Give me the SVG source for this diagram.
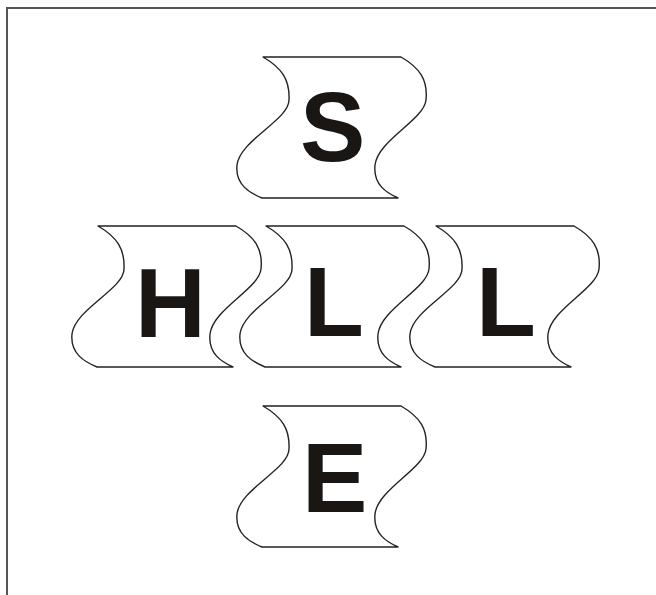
<svg xmlns="http://www.w3.org/2000/svg" width="656" height="595" viewBox="0 0 656 595">
<style>
.tile{fill:#fff;stroke:#222;stroke-width:1.4;stroke-linejoin:round}
.lt{font-family:"Liberation Sans",Arial,sans-serif;font-weight:bold;font-size:98px;fill:#1a1614}
.frame{stroke:#555;stroke-width:2;fill:none}
</style>
<defs>
<path id="flag" d="M0,0 L138,0 C157,11 165,23 163,43 C161,63 115,83 112,108 C110,128 124,136 135,141 L-1,141 C-13,136 -28,128 -26,108 C-23,83 26,63 26,43 C27,23 19,11 0,0 Z"/>
</defs>
<rect width="656" height="595" fill="#fff"/>
<g id="frame"><path class="frame" d="M7,595 L7,8 L656,8"/></g>
<g id="connectors"></g>
<g id="node-S"><use href="#flag" class="tile" x="263" y="57"/><text class="lt" x="300" y="161">S</text></g>
<g id="node-H"><use href="#flag" class="tile" x="98" y="226"/><text class="lt" x="135" y="337">H</text></g>
<g id="node-L1"><use href="#flag" class="tile" x="266" y="226"/><text class="lt" x="304" y="336">L</text></g>
<g id="node-L2"><use href="#flag" class="tile" x="436" y="226"/><text class="lt" x="476" y="336">L</text></g>
<g id="node-E"><use href="#flag" class="tile" x="263" y="406"/><text class="lt" x="302" y="512">E</text></g>
</svg>
